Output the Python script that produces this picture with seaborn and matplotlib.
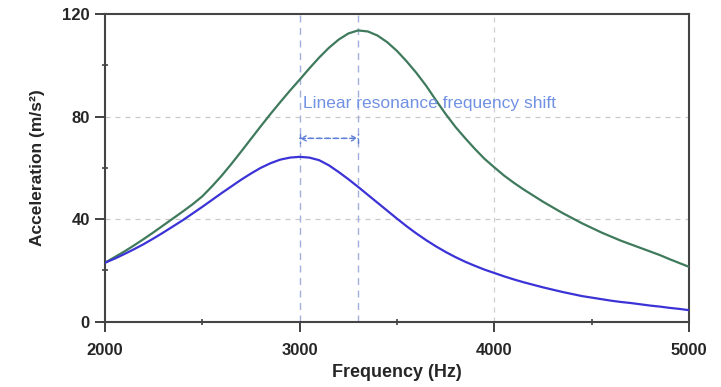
import numpy as np
import pandas as pd
import matplotlib
matplotlib.use("Agg")
import matplotlib.pyplot as plt
import seaborn as sns

freq = [2000, 2050, 2100, 2150, 2200, 2250, 2300, 2350, 2400, 2450,
        2500, 2550, 2600, 2650, 2700, 2750, 2800, 2850, 2900, 2950,
        3000, 3050, 3100, 3150, 3200, 3250, 3300, 3350, 3400, 3450,
        3500, 3550, 3600, 3650, 3700, 3750, 3800, 3850, 3900, 3950,
        4000, 4050, 4100, 4150, 4200, 4250, 4300, 4350, 4400, 4450,
        4500, 4550, 4600, 4650, 4700, 4750, 4800, 4850, 4900, 4950, 5000]
accel_green = [23.0, 25.2, 27.4, 29.8, 32.3, 34.9, 37.6, 40.3, 43.0, 45.8,
               48.9, 52.8, 57.0, 61.6, 66.4, 71.3, 76.2, 81.0, 85.6, 90.1,
               94.4, 98.8, 103.0, 106.8, 110.0, 112.4, 113.6, 113.2, 111.6, 109.0,
               105.6, 101.5, 97.0, 92.0, 86.4, 81.0, 76.0, 71.6, 67.4, 63.5,
               60.2, 57.0, 54.2, 51.6, 49.2, 46.8, 44.6, 42.4, 40.4, 38.4,
               36.6, 34.8, 33.2, 31.6, 30.2, 28.8, 27.4, 26.0, 24.4, 22.9, 21.4]
accel_blue = [23.0, 24.6, 26.4, 28.3, 30.3, 32.5, 34.8, 37.2, 39.6, 42.2,
              44.8, 47.5, 50.2, 52.8, 55.4, 57.8, 60.0, 61.8, 63.2, 64.0,
              64.3, 64.0, 63.0, 61.0, 58.4, 55.6, 52.6, 49.5, 46.4, 43.3,
              40.2, 37.2, 34.4, 31.8, 29.4, 27.2, 25.2, 23.4, 21.8, 20.3,
              19.0, 17.7, 16.5, 15.4, 14.4, 13.4, 12.5, 11.6, 10.8, 10.0,
              9.4, 8.8, 8.2, 7.7, 7.3, 6.8, 6.3, 5.9, 5.4, 5.0, 4.5]
series_names = ["Nonlinear", "Linear"]
x_ticks = [2000, 3000, 4000, 5000]
y_ticks = [0, 40, 80, 120]
shift_from, shift_to = 3000, 3300
annot_text = "Linear resonance frequency shift"

df = pd.DataFrame({
    "Frequency": freq * 2,
    "Acceleration": accel_green + accel_blue,
    "Series": [series_names[0]] * len(freq) + [series_names[1]] * len(freq),
})

sns.set_theme(style="white")
plt.rcParams["font.family"] = ["Liberation Sans", "DejaVu Sans"]

fig = plt.figure(figsize=(7.21, 3.87), dpi=100)
ax = fig.add_axes([0.1456, 0.1687, 0.8100, 0.7951])

# grid
for yv in [40, 80]:
    ax.axhline(yv, color="#c9c9c9", lw=0.9, ls=(0, (4, 4)), zorder=0)
ax.axvline(4000, color="#cfcfcf", lw=0.9, ls=(0, (4, 4)), zorder=0)
for xv in [shift_from, shift_to]:
    ax.axvline(xv, color="#a4b0dc", lw=1.0, ls=(0, (5, 4)), zorder=0)

sns.lineplot(data=df, x="Frequency", y="Acceleration", hue="Series",
             palette={series_names[0]: "#3f7a5c", series_names[1]: "#3b33d6"},
             lw=1.6, legend=False, ax=ax, zorder=3)

ax.annotate("", xy=(shift_to, 71.5), xytext=(shift_from, 71.5),
            arrowprops=dict(arrowstyle="|-|,widthA=0.25,widthB=0.25", color="#5f7fd8",
                            lw=1.0, ls=(0, (3, 3)), shrinkA=0, shrinkB=0))
ax.annotate("", xy=(shift_to, 71.5), xytext=(shift_from, 71.5),
            arrowprops=dict(arrowstyle="<->,head_length=0.3,head_width=0.15", color="#5f7fd8",
                            lw=1.0, ls=(0, (3, 3)), shrinkA=0, shrinkB=0))
ax.text(3015, 85, annot_text, color="#7191e3", fontsize=12.5, va="center", ha="left")

ax.set_xlim(2000, 5000)
ax.set_ylim(0, 120)
ax.set_xticks(x_ticks)
ax.set_yticks(y_ticks)
ax.set_xticks([2500, 3500, 4500], minor=True)
ax.set_yticks([20, 60, 100], minor=True)
ax.set_xticklabels([str(t) for t in x_ticks], fontweight="bold", fontsize=12)
ax.set_yticklabels([str(t) for t in y_ticks], fontweight="bold", fontsize=12)
ax.tick_params(axis="x", which="major", direction="out", length=7, width=1.3,
               color="#333333", bottom=True, pad=8)
ax.tick_params(axis="y", which="major", direction="out", length=7, width=1.3,
               color="#333333", left=True, pad=4)
ax.tick_params(axis="both", which="minor", direction="inout", length=5, width=1.1,
               color="#333333", bottom=True, left=True)
ax.set_xlabel("Frequency (Hz)", fontweight="bold", fontsize=13, labelpad=5)
ax.set_ylabel("Acceleration (m/s²)", fontweight="bold", fontsize=12.5, labelpad=12)
for s in ax.spines.values():
    s.set_visible(True)
    s.set_color("#444444")
    s.set_linewidth(1.5)

fig.savefig("out.png", dpi=100)
